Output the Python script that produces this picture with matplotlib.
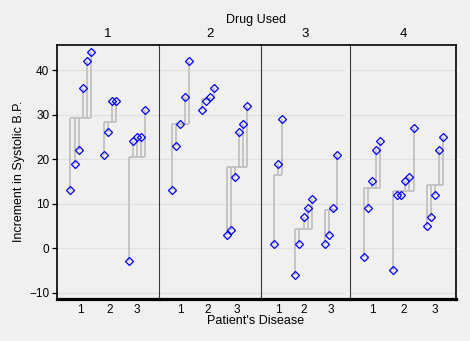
import numpy as np
import matplotlib.pyplot as plt

plt.rcParams.update({
    "font.family": ["Liberation Sans", "DejaVu Sans"],
    "font.size": 8.5,
    "text.color": "black",
})

# Increment in systolic B.P., one list per patient's disease, per drug
drug_names = ["1", "2", "3", "4"]
disease_names = ["1", "2", "3"]
drug1 = [[42, 44, 36, 13, 19, 22], [33, 26, 33, 21], [31, -3, 25, 25, 24]]
drug2 = [[28, 23, 34, 42, 13], [34, 33, 31, 36], [3, 26, 28, 32, 4, 16]]
drug3 = [[1, 29, 19], [11, 9, 7, 1, -6], [21, 1, 9, 3]]
drug4 = [[24, 9, 22, -2, 15], [27, 12, 12, -5, 16, 15], [22, 7, 25, 5, 12]]
yticks = [-10, 0, 10, 20, 30, 40]

all_drugs = [drug1, drug2, drug3, drug4]

bg = "#f0f0f0"
gap = 3.2   # extra spacing between disease groups (in point steps)
pad = 3.3   # margin inside each panel

# x positions per panel: points sorted, one step apart, gap between groups
panels = []
for groups in all_drugs:
    xs, ys, centers = [], [], []
    x0 = 0.0
    for g in groups:
        vals = np.sort(np.array(g, dtype=float))
        gx = x0 + np.arange(len(vals))
        xs.append(gx)
        ys.append(vals)
        centers.append(gx.mean())
        x0 = gx[-1] + gap
    span = xs[-1][-1]
    panels.append((xs, ys, centers, span))

widths = np.array([p[3] + 2 * pad for p in panels])

W, H = 470, 341
L, R = 57 / W, 456.3 / W
B, T = 1 - 299.3 / H, 1 - 45.3 / H

fig = plt.figure(figsize=(W / 100, H / 100), dpi=100, facecolor=bg)

lefts = L + (R - L) * np.concatenate([[0], np.cumsum(widths)[:-1]]) / widths.sum()
pw = (R - L) * widths / widths.sum()

for i, (xs, ys, centers, span) in enumerate(panels):
    ax = fig.add_axes([lefts[i], B, pw[i], T - B])
    ax.set_facecolor(bg)
    ax.set_xlim(-pad, span + pad)
    ax.set_ylim(-11.5, 45.6)
    ax.set_yticks(yticks)
    ax.grid(axis="y", color="#e2e2e2", lw=1.0)
    ax.set_axisbelow(True)

    for gx, gy in zip(xs, ys):
        m = gy.mean()
        ax.vlines(gx, m, gy, color="#bdbdbd", lw=1.2, zorder=2)
        ax.hlines(m, gx[0], gx[-1], color="#bdbdbd", lw=1.2, zorder=2)
        ax.plot(gx, gy, ls="none", marker="D", ms=4.4, mfc="none",
                mec="blue", mew=0.9, zorder=3)

    ax.set_xticks(centers)
    ax.set_xticklabels(disease_names)
    ax.tick_params(axis="x", length=0, pad=3.5, labelsize=8.5)

    ax.spines["top"].set_color("black")
    ax.spines["top"].set_linewidth(1.2)
    ax.spines["bottom"].set_color("black")
    ax.spines["bottom"].set_linewidth(2.3)
    if i == 0:
        ax.spines["left"].set_color("black")
        ax.spines["left"].set_linewidth(1.2)
        ax.tick_params(axis="y", length=3.5, width=0.9, pad=2, labelsize=8.5)
    else:
        ax.spines["left"].set_color("#3a3a3a")
        ax.spines["left"].set_linewidth(0.8)
        ax.tick_params(axis="y", length=0, labelleft=False)
    if i == len(panels) - 1:
        ax.spines["right"].set_color("black")
        ax.spines["right"].set_linewidth(1.2)
        ax.tick_params(axis="y", right=True, colors="white", length=3, width=0.9)
        ax.tick_params(axis="y", labelleft=False)
    else:
        ax.spines["right"].set_visible(False)

    fig.text(lefts[i] + pw[i] / 2, 1 - 34.3 / H, drug_names[i],
             ha="center", va="center", fontsize=9.5)

fig.text(255.8 / W, 1 - 19.7 / H, "Drug Used", ha="center", va="center", fontsize=9)
fig.text(256 / W, 1 - 321 / H, "Patient's Disease", ha="center", va="center", fontsize=9)
fig.text(19 / W, 1 - 171 / H, "Increment in Systolic B.P.", rotation=90,
         ha="center", va="center", fontsize=9)

fig.savefig("out.png", dpi=100, facecolor=bg)
